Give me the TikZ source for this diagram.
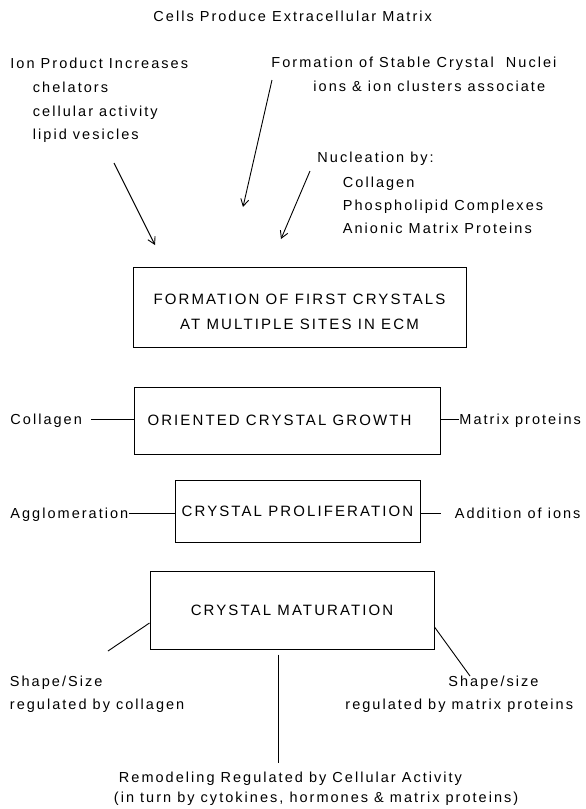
\documentclass[tikz,border=0pt]{standalone}
\usepackage{fontspec}
\setmainfont[LetterSpace=14]{Liberation Sans}
\usetikzlibrary{arrows.meta}

\begin{document}
\begin{tikzpicture}[x=1pt, y=-1pt, line width=0.9pt,
  txt/.style={anchor=west, inner sep=0pt, text height=10pt, text depth=0pt,
    font=\fontsize{14.5}{17}\selectfont},
  stage/.style={draw, line width=1pt, inner sep=0pt, align=center,
    font=\fontsize{15}{25}\selectfont},
  arr/.style={-{Straight Barb[length=7pt,width=8pt]}}]

\useasboundingbox (0,0) rectangle (586,809);

\node[txt] (t) at (153,16) {Cells Produce Extracellular Matrix};

% what feeds the first crystals
\node[txt] (ion)  at (10,63)    {Ion Product Increases};
\node[txt] (ch)   at (32.5,87)  {chelators};
\node[txt] (ca)   at (32.5,111) {cellular activity};
\node[txt] (lv)   at (32.5,134) {lipid vesicles};

\node[txt] (fs)   at (271,62)   {Formation of Stable Crystal\ \ Nuclei};
\node[txt] (ic)   at (313,86)   {ions \& ion clusters associate};

\node[txt] (nb)   at (317,157)  {Nucleation by:};
\node[txt] (n1)   at (342.5,182) {Collagen};
\node[txt] (n2)   at (342.5,205) {Phospholipid Complexes};
\node[txt] (n3)   at (342.5,228) {Anionic Matrix Proteins};

\coordinate (a1s) at (114,163);
\coordinate (a1e) at (155,245);
\coordinate (a2s) at (272,80);
\coordinate (a2e) at (243,207);
\coordinate (a3s) at (310,171);
\coordinate (a3e) at (281,239);

% Stages
\node[
    stage,
    minimum width=333pt,
    minimum height=80pt
] (b1) at (299.5,307) {\rule{0pt}{21pt}FORMATION OF FIRST CRYSTALS\\AT MULTIPLE SITES IN ECM};
\node[stage, minimum width=306pt, minimum height=67pt] (b2) at (287,420.5) {\hspace*{-15pt}ORIENTED CRYSTAL GROWTH};
\node[stage, minimum width=245pt, minimum height=62pt] (b3) at (297.5,511) {CRYSTAL PROLIFERATION};
\node[stage, minimum width=284pt, minimum height=78pt] (b4) at (292,610) {CRYSTAL MATURATION};

\node[txt] (col) at (10,419)   {Collagen};
\node[txt] (mp)  at (459,419)  {Matrix proteins};
\node[txt] (agg) at (10,513)   {Agglomeration};
\node[txt] (add) at (454.5,513) {Addition of ions};

\node[txt] (s1)  at (9.5,681)  {Shape/Size};
\node[txt] (r1)  at (9.5,704)  {regulated by collagen};
\node[txt] (s2)  at (448,681)  {Shape/size};
\node[txt] (r2)  at (345,704)  {regulated by matrix proteins};

\node[txt] (rm)  at (118.5,777) {Remodeling Regulated by Cellular Activity};
\node[txt] (it)  at (113.5,797) {(in turn by cytokines, hormones \& matrix proteins)};

\coordinate (l1) at (108,651);
\coordinate (l2) at (470,676);
\coordinate (l3) at (278,763);

\draw[arr] (a1s) -- (a1e);
\draw[arr] (a2s) -- (a2e);
\draw[arr] (a3s) -- (a3e);

\draw ([xshift=9pt]col.east) -- (col.east -| b2.west);
\draw (b2.east |- mp.west) -- (mp.west);
\draw (agg.east) -- (agg.east -| b3.west);
\draw (b3.east |- add.west) -- ([xshift=-14pt]add.west);

\draw ([yshift=-13pt]b4.west) -- (l1);
\draw ([yshift=-17pt]b4.east) -- (l2);
\draw (b4.south -| l3) ++(0,5) -- (l3);

\end{tikzpicture}
\end{document}
